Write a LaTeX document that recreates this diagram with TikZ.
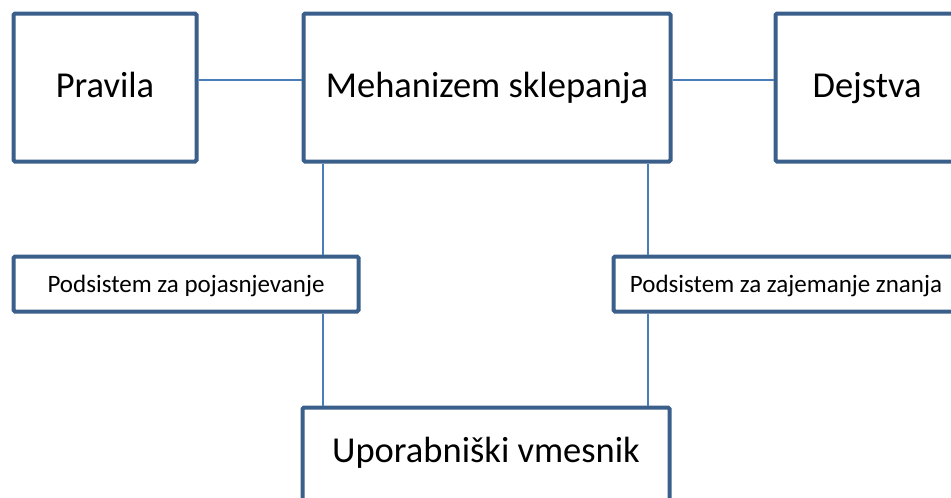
\documentclass[tikz,border=0pt]{standalone}
\usepackage{fontspec}
\setmainfont{Carlito}
\definecolor{boxline}{HTML}{3A5F8B}
\definecolor{linkline}{HTML}{4A7EBB}
\begin{document}
\begin{tikzpicture}[x=1pt,y=-1pt,
  box/.style={draw=boxline,line width=4pt,fill=white,rounded corners=1.5pt,
    inner sep=0pt,font=\fontsize{36.5}{42}\selectfont,
    text height=27.4pt,text depth=7.3pt},
  smallbox/.style={box,font=\fontsize{25}{30}\selectfont,
    text height=21.4pt,text depth=4pt},
  link/.style={draw=linkline,line width=2.6pt}]
\path[use as bounding box] (0,0) rectangle (951,498);
\clip (0,0) rectangle (951,498);
% upper row
\node[box,minimum width=183pt,minimum height=148pt] (prav) at (105,87.5) {Pravila};
\node[box,minimum width=367pt,minimum height=148pt] (meh) at (487,87.5) {Mehanizem sklepanja};
\node[box,minimum width=183pt,minimum height=148pt] (dej) at (867,87.5) {Dejstva};
% subsystems
\node[smallbox,minimum width=345pt,minimum height=55pt] (poj) at (186,284) {Podsistem za pojasnjevanje};
\node[smallbox,minimum width=345pt,minimum height=55pt] (zaj) at (786,284) {Podsistem za zajemanje znanja};
% user interface
\node[box,minimum width=367pt,minimum height=93pt,text height=25pt,text depth=8pt]
  (upo) at (486,454) {Uporabniški vmesnik};
% connector rails
\coordinate (row) at (0,80);
\coordinate (lcol) at (323,0);
\coordinate (rcol) at (648,0);
\draw[link] (prav.east |- row) -- (meh.west |- row);
\draw[link] (meh.east |- row) -- (dej.west |- row);
\draw[link] (meh.south -| lcol) -- (poj.north -| lcol);
\draw[link] (poj.south -| lcol) -- (upo.north -| lcol);
\draw[link] (meh.south -| rcol) -- (zaj.north -| rcol);
\draw[link] (zaj.south -| rcol) -- (upo.north -| rcol);
\end{tikzpicture}
\end{document}
